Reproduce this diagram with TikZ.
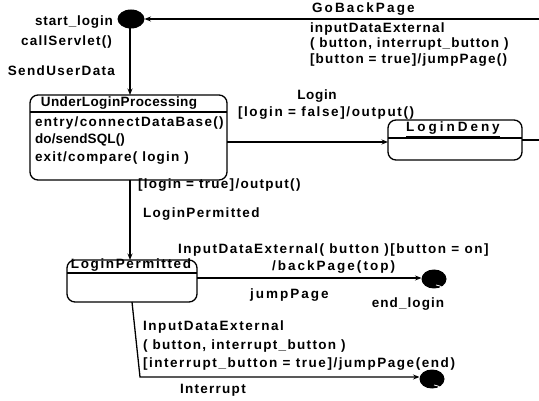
\documentclass[tikz,border=0pt]{standalone}
\usepackage{fontspec}
\setmainfont{Liberation Sans}[BoldFont={* Bold}]
\usetikzlibrary{arrows.meta}
\newfontfamily\lblfont{Liberation Sans Bold}
\newcommand\lfont[1]{\lblfont\addfontfeature{LetterSpace=#1}\fontsize{13.5}{16}\selectfont}
\begin{document}
\begin{tikzpicture}[x=1pt,y=-1pt,
  every node/.style={inner sep=0pt,outer sep=0pt},
  lbl/.style={font=\lfont{#1},text=black},
  lbl/.default=9,
  lblw/.style={lbl=#1,anchor=west},
  lblw/.default=9,
  lble/.style={lbl=#1,anchor=east},
  lble/.default=9,
  statebox/.style={draw=black,line width=1.3pt,rounded corners=8pt},
  conn/.style={draw=black,line width=1.3pt},
  arr/.style={conn,-{Stealth[length=6.5pt,width=5pt]}}
]
\useasboundingbox (0,0) rectangle (539,401);
% start pseudostate
\fill[black] (131,19) ellipse [x radius=13.5, y radius=9.5];
\node (start) at (131,19) [minimum width=27pt,minimum height=19pt] {};
% UnderLoginProcessing
\draw[statebox] (30,95) rectangle (227,180);
\node (ulp) at (128.5,137.5) [minimum width=197pt,minimum height=85pt] {};
\draw[conn] (30,112) -- (227,112);
\node[lbl=3] (ulpt) at (119,103) {UnderLoginProcessing};
\node[lblw=10] (ulp1) at (35,123) {entry/connectDataBase()};
\node[lblw=1] (ulp2) at (35,140) {do/sendSQL()};
\node[lblw=9] (ulp3) at (35,158) {exit/compare( login )};
% LoginDeny
\draw[statebox] (388,120) rectangle (522,160);
\node (ld) at (455,140) [minimum width=134pt,minimum height=40pt] {};
\draw[conn] (388,138) -- (522,138);
\node[lbl=22] (ldt) at (453,129) {\underline{LoginDeny}};
% LoginPermitted
\draw[statebox] (67,260) rectangle (197,302);
\node (lp) at (132,281) [minimum width=130pt,minimum height=42pt] {};
\draw[conn] (67,273) -- (197,273);
\node[lbl=12] (lpt) at (131,266.5) {\underline{LoginPermitted}};
% end states
\fill[black] (434,279) ellipse [x radius=12.5, y radius=9.5];
\draw[white,line width=0.8pt] (436,285) arc [start angle=-80, end angle=-10, x radius=8, y radius=4];
\node (end1) at (434,279) [minimum width=25pt,minimum height=19pt] {};
\fill[black] (432,379) ellipse [x radius=12.5, y radius=9.5];
\draw[white,line width=0.8pt] (434,385) arc [start angle=-80, end angle=-10, x radius=8, y radius=4];
\node (end2) at (432,379) [minimum width=25pt,minimum height=19pt] {};
% coordinates for free ends / bends
\coordinate (rt1) at (539,19);
\coordinate (rt2) at (539,140);
\coordinate (bend) at (140,377);
% connectors
\draw[arr] (start.south -| 130,0) -- (ulp.north -| 130,0);
\draw[arr] (ulp.south -| 130,0) -- (lp.north -| 130,0);
\draw[arr] (ulp.east |- 0,142) -- (ld.west |- 0,142);
\draw[conn] (ld.east |- 0,140) -- (rt2);
\draw[arr] (rt1) -- (start.east |- 0,19);
\draw[arr] (lp.east |- 0,278) -- (end1.west |- 0,278);
\draw[arr] (lp.south -| 132,0) -- (bend) -- (end2.west |- 0,377);
% labels
\node[lble=6.6] (l1) at (113,22) {start\_login};
\node[lble=8.8] (l2) at (112,42) {callServlet()};
\node[lble=10] (l3) at (115,71) {SendUserData};
\node[lblw=16] (l4) at (312,9) {GoBackPage};
\node[lblw=8.8] (l5a) at (310,29) {inputDataExternal};
\node[lblw=8.5] (l5b) at (310,44) {( button, interrupt\_button )};
\node[lblw=9] (l5c) at (310,60) {[button = true]/jumpPage()};
\node[lbl=5] (l6) at (317,96) {Login};
\node[lblw=12] (l7) at (238,113) {[login = false]/output()};
\node[lblw=9.5] (l8) at (138,185) {[login = true]/output()};
\node[lblw=10] (l9) at (143,214) {LoginPermitted};
\node[lblw=11.4] (l10) at (178,250) {InputDataExternal( button )[button = on]};
\node[lblw=15] (l11) at (272,267) {/backPage(top)};
\node[lblw=15] (l12) at (250,295) {jumpPage};
\node[lbl=8] (l13) at (408,304) {end\_login};
\node[lblw=11.8] (l14a) at (143,327) {InputDataExternal};
\node[lblw=9.8] (l14b) at (143,346) {( button, interrupt\_button )};
\node[lblw=11.5] (l14c) at (143,364) {[interrupt\_button = true]/jumpPage(end)};
\node[lblw=9.5] (l15) at (180,390) {Interrupt};
\end{tikzpicture}
\end{document}
